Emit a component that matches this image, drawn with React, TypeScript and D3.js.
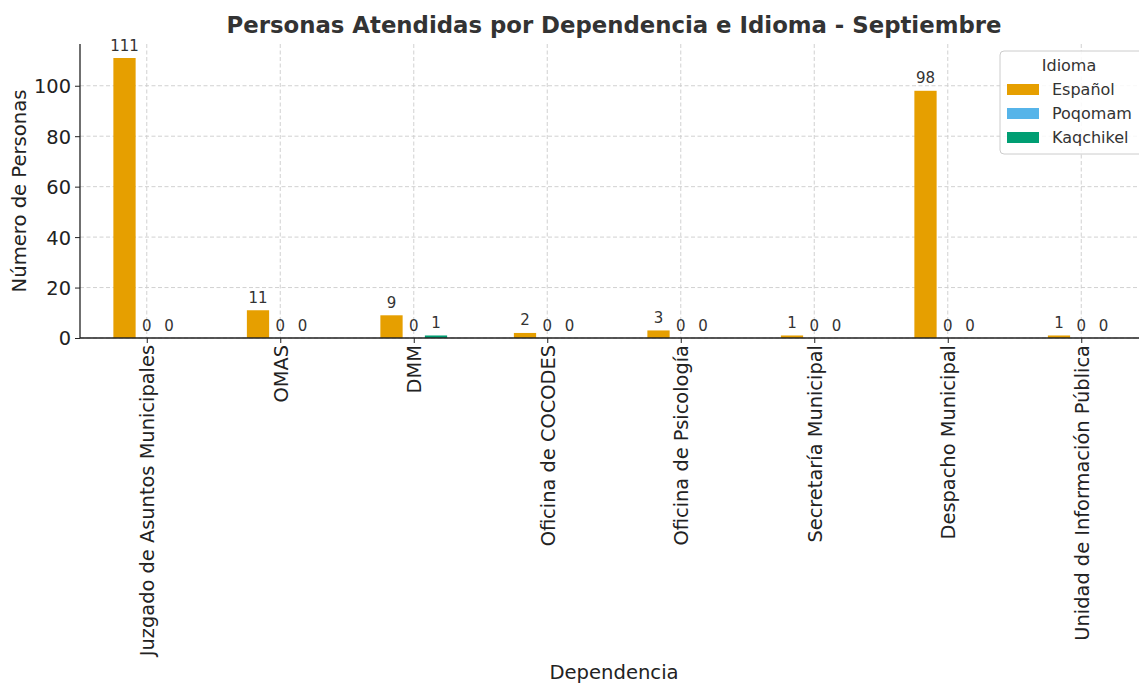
import { useEffect, useRef } from "react"
import * as d3 from "d3"

const dependencias = [
  "Juzgado de Asuntos Municipales",
  "OMAS",
  "DMM",
  "Oficina de COCODES",
  "Oficina de Psicología",
  "Secretaría Municipal",
  "Despacho Municipal",
  "Unidad de Información Pública",
]
const idiomas = ["Español", "Poqomam", "Kaqchikel"]
const espanol = [111, 11, 9, 2, 3, 1, 98, 1]
const poqomam = [0, 0, 0, 0, 0, 0, 0, 0]
const kaqchikel = [0, 0, 1, 0, 0, 0, 0, 0]
const colores = ["#E69F00", "#56B4E9", "#009E73"]
const yTicks = [0, 20, 40, 60, 80, 100]

const W = 1139
const H = 683
const FONT = "DejaVu Sans, sans-serif"

const App = () => {
  const svgRef = useRef<SVGSVGElement>(null)

  useEffect(() => {
    document.body.style.margin = "0"
    const series = [espanol, poqomam, kaqchikel]
    const left = 80
    const bottom = 338
    const top = 44
    const right = 1148

    const svg = d3.select(svgRef.current)
    svg.selectAll("*").remove()

    const x = d3.scaleLinear().domain([-0.5, dependencias.length - 0.5]).range([left, right])
    const y = d3.scaleLinear().domain([0, d3.max(espanol)! * 1.05]).range([bottom, top])
    const bw = 0.5 / 3

    // grid
    const grid = svg.append("g").attr("stroke", "#cccccc").attr("stroke-dasharray", "4,2.5").attr("stroke-width", 0.9)
    grid.selectAll(".gy").data(yTicks).join("line")
      .attr("x1", left).attr("x2", right).attr("y1", d => y(d)).attr("y2", d => y(d))
    grid.selectAll(".gx").data(dependencias.map((_, i) => i)).join("line")
      .attr("x1", d => x(d)).attr("x2", d => x(d)).attr("y1", top).attr("y2", bottom)

    // bars
    series.forEach((vals, s) => {
      const off = (s - 1) * bw
      const g = svg.append("g")
      g.selectAll("rect").data(vals).join("rect")
        .attr("x", (_, i) => x(i + off - bw / 2))
        .attr("width", x(bw) - x(0))
        .attr("y", d => y(d))
        .attr("height", d => bottom - y(d))
        .attr("fill", colores[s])
      g.selectAll("text").data(vals).join("text")
        .attr("x", (_, i) => x(i + off))
        .attr("y", d => y(d) - 7.5)
        .attr("text-anchor", "middle")
        .attr("font-family", FONT)
        .attr("font-size", 15)
        .attr("fill", "#333333")
        .text(d => d)
    })

    // axes
    const yAxis = d3.axisLeft(y).tickValues(yTicks).tickSize(5).tickPadding(4)
    const ya = svg.append("g").attr("transform", `translate(${left},0)`).call(yAxis)
    ya.select(".domain").attr("d", `M0,${top}V${bottom}`).attr("stroke", "#222").attr("stroke-width", 1.3)
    ya.selectAll("line").attr("stroke", "#222")
    ya.selectAll("text").attr("font-family", FONT).attr("font-size", 19.4).attr("fill", "#222").attr("dy", "0.36em")

    const xAxis = d3.axisBottom(x).tickValues(dependencias.map((_, i) => i)).tickSize(5).tickFormat((_, i) => dependencias[i])
    const xa = svg.append("g").attr("transform", `translate(0,${bottom})`).call(xAxis)
    xa.select(".domain").attr("d", `M${left},0H${right}`).attr("stroke", "#222").attr("stroke-width", 1.3)
    xa.selectAll("line").attr("stroke", "#222")
    xa.selectAll("text")
      .attr("font-family", FONT).attr("font-size", 19.4).attr("fill", "#222")
      .attr("transform", "rotate(-90)")
      .attr("text-anchor", "end")
      .attr("x", -7).attr("y", 0).attr("dy", "0.36em")

    // labels
    svg.append("text")
      .attr("x", (left + right) / 2).attr("y", 33)
      .attr("text-anchor", "middle").attr("font-family", FONT)
      .attr("font-size", 22.8).attr("font-weight", "bold").attr("fill", "#333333")
      .text("Personas Atendidas por Dependencia e Idioma - Septiembre")
    svg.append("text")
      .attr("x", (left + right) / 2).attr("y", 679)
      .attr("text-anchor", "middle").attr("font-family", FONT)
      .attr("font-size", 19.6).attr("fill", "#222")
      .text("Dependencia")
    svg.append("text")
      .attr("transform", `translate(26,${(top + bottom) / 2}) rotate(-90)`)
      .attr("text-anchor", "middle").attr("font-family", FONT)
      .attr("font-size", 19.6).attr("fill", "#222")
      .text("Número de Personas")

    // legend
    const lg = svg.append("g").attr("transform", "translate(1000,51)")
    lg.append("rect").attr("width", 150).attr("height", 103).attr("rx", 4)
      .attr("fill", "white").attr("fill-opacity", 0.85).attr("stroke", "#cccccc")
    lg.append("text").attr("x", 69).attr("y", 20).attr("text-anchor", "middle")
      .attr("font-family", FONT).attr("font-size", 16).attr("fill", "#333333").text("Idioma")
    idiomas.forEach((name, i) => {
      lg.append("rect").attr("x", 7).attr("y", 33 + i * 24).attr("width", 32).attr("height", 11).attr("fill", colores[i])
      lg.append("text").attr("x", 52).attr("y", 44 + i * 24)
        .attr("font-family", FONT).attr("font-size", 16).attr("fill", "#333333").text(name)
    })
  }, [])

  return (
    <div>
      <svg ref={svgRef} width={W} height={H} style={{ display: "block" }} />
    </div>
  )
}
export default App
